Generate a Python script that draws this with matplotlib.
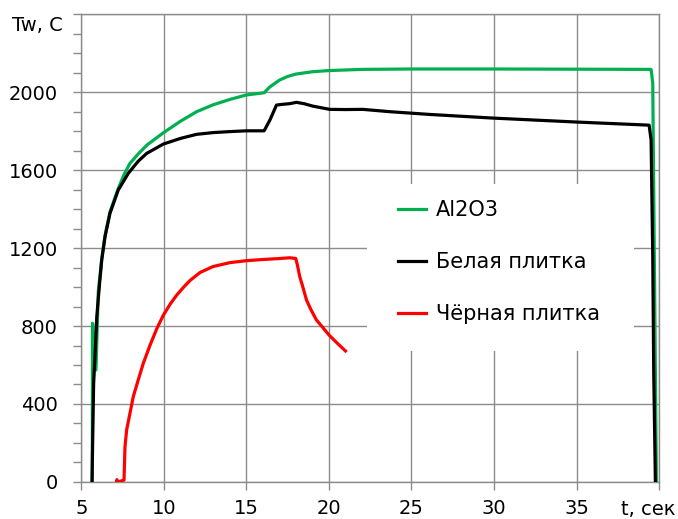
import matplotlib
matplotlib.use("Agg")
import matplotlib.pyplot as plt
from matplotlib.patches import Rectangle
from matplotlib.ticker import MultipleLocator

# temperature traces, t in seconds, Tw in degrees C
al2o3_t = [5.66, 5.67, 5.69, 5.88, 6.02, 6.23, 6.43, 6.73, 7.23, 7.6, 7.94, 8.5,
           9.0, 10.0, 11.0, 11.98, 13.0, 14.0, 15.0, 16.07, 16.4, 17.0, 17.5,
           18.0, 19.0, 20.0, 22.0, 25.0, 30.0, 35.0, 39.52, 39.62, 39.84]
al2o3_T = [0, 814, 800, 574, 975, 1145, 1265, 1385, 1505, 1580, 1634, 1688,
           1730, 1793, 1850, 1899, 1935, 1962, 1985, 1996, 2025, 2061, 2080,
           2092, 2104, 2110, 2116, 2118, 2118, 2117, 2116, 2046, 0]

white_t = [5.64, 5.74, 5.82, 5.93, 6.1, 6.23, 6.43, 6.73, 7.23, 7.84, 8.44, 8.95,
           9.96, 11.0, 11.98, 13.0, 14.0, 15.0, 16.07, 16.42, 16.82, 17.2, 17.6,
           18.03, 18.5, 19.0, 20.05, 21.0, 22.05, 23.7, 26.1, 30.0, 35.0, 39.4,
           39.52, 39.62, 39.68, 39.78]
white_T = [0, 506, 640, 848, 1018, 1138, 1258, 1378, 1497, 1583, 1645, 1685,
           1733, 1762, 1783, 1792, 1797, 1801, 1801, 1856, 1933, 1937, 1940,
           1947, 1940, 1928, 1911, 1910, 1911, 1899, 1885, 1866, 1846, 1830,
           1754, 1154, 559, 0]

black_t = [7.12, 7.15, 7.22, 7.58, 7.64, 7.74, 7.94, 8.14, 8.44, 8.75, 9.15, 9.56,
           9.96, 10.4, 10.77, 11.2, 11.6, 12.2, 12.98, 14.0, 15.0, 16.0, 17.0,
           17.63, 17.99, 18.08, 18.23, 18.4, 18.64, 18.9, 19.24, 19.6, 20.0, 20.5,
           21.0]
black_T = [0, 12, 0, 10, 181, 267, 352, 437, 523, 609, 700, 785,
           855, 915, 958, 1000, 1035, 1075, 1105, 1125, 1135, 1141, 1146,
           1150, 1146, 1115, 1053, 1005, 933, 885, 831, 795, 754, 712,
           672]

labels = ["Al2O3", "Белая плитка", "Чёрная плитка"]
x_ticks = [5, 10, 15, 20, 25, 30, 35, 40]
x_tick_labels = ["5", "10", "15", "20", "25", "30", "35", ""]
y_ticks = [0, 400, 800, 1200, 1600, 2000, 2400]
y_tick_labels = ["0", "400", "800", "1200", "1600", "2000", ""]

grid_col = "#8c8c8c"
plt.rcParams["font.family"] = ["DejaVu Sans"]

fig = plt.figure(figsize=(6.78, 5.19), dpi=100)
ax = fig.add_axes([0.1201, 0.0713, 0.8519, 0.9017])

ax.plot(al2o3_t, al2o3_T, color="#00b050", lw=2.3, label=labels[0], zorder=3)
ax.plot(white_t, white_T, color="black", lw=2.3, label=labels[1], zorder=3)
ax.plot(black_t, black_T, color="#ff0000", lw=2.3, label=labels[2], zorder=3)

ax.set_xlim(5, 40)
ax.set_ylim(0, 2400)
ax.set_xticks(x_ticks)
ax.set_xticklabels(x_tick_labels)
ax.set_yticks(y_ticks)
ax.set_yticklabels(y_tick_labels)
ax.yaxis.set_minor_locator(MultipleLocator(100))

ax.set_axisbelow(True)
ax.grid(True, which="major", color=grid_col, lw=1)
for s in ax.spines.values():
    s.set_color(grid_col)
    s.set_linewidth(1)
ax.tick_params(which="both", colors=grid_col, labelcolor="black", labelsize=14,
               length=6, width=1)
ax.tick_params(axis="y", pad=11)
ax.tick_params(axis="x", pad=6)

# axis captions sit where the last tick labels would be
ax.annotate("Tw, C", xy=(0, 1), xycoords="axes fraction", xytext=(-19, -11),
            textcoords="offset pixels", ha="right", va="center", fontsize=14)
ax.annotate("t, сек", xy=(1, 0), xycoords="axes fraction", xytext=(-11, -28),
            textcoords="offset pixels", ha="center", va="center", fontsize=14)

# white backing behind the legend hides the grid
ax.add_patch(Rectangle((0.494, 0.280), 0.463, 0.357, transform=ax.transAxes,
                       facecolor="white", edgecolor="none", zorder=1))
ax.legend(loc="upper left", bbox_to_anchor=(0.548, 0.603), frameon=False,
          fontsize=15, handlelength=1.35, handletextpad=0.48, labelspacing=1.55,
          borderpad=0, borderaxespad=0)

fig.savefig("out.png", dpi=100)
